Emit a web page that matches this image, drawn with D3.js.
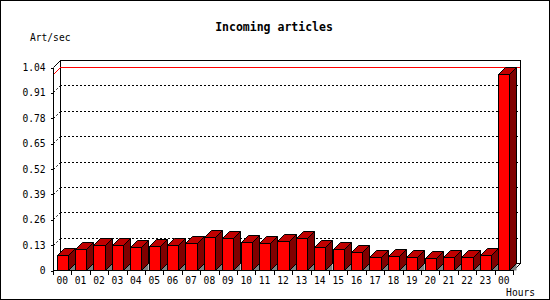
<!DOCTYPE html>
<html><head><meta charset="utf-8">
<script src="https://cdn.jsdelivr.net/npm/d3@7"></script>
<style>body{margin:0;background:#fff}svg{display:block}</style>
</head><body>
<script>
const hours = ["00","01","02","03","04","05","06","07","08","09","10","11","12","13","14","15","16","17","18","19","20","21","22","23","00"];
const rates = [0.075,0.106,0.127,0.127,0.116,0.121,0.127,0.137,0.168,0.162,0.142,0.137,0.147,0.162,0.116,0.106,0.091,0.065,0.070,0.065,0.060,0.065,0.065,0.075,1.003];
const yTicks = [0,0.13,0.26,0.39,0.52,0.65,0.78,0.91,1.04];
const title = "Incoming articles";
const yTitle = "Art/sec";
const xTitle = "Hours";

const W = 550, H = 300;
const X0 = 53, X1 = 513, Y0 = 270, Y1 = 67, D = 7;
const font = "'DejaVu Sans Mono', monospace";

const svg = d3.select("body").append("svg").attr("width", W).attr("height", H)
  .attr("shape-rendering", "crispEdges");
svg.append("rect").attr("x",0.5).attr("y",0.5).attr("width",W-1).attr("height",H-1)
  .attr("fill","#fff").attr("stroke","#000");

const x = d3.scaleBand().domain(d3.range(hours.length)).range([X0, X1]).paddingInner(0.4).paddingOuter(0.2);
const y = d3.scaleLinear().domain([0, 1.04]).range([Y0, Y1]);
const step = x.step();
const bw = x.bandwidth();

// back plane
svg.append("rect").attr("x", X0 + D + 0.5).attr("y", y(1.04) - D + 0.5)
  .attr("width", X1 - X0).attr("height", Y0 - Y1).attr("fill", "#fff").attr("stroke", "#000");

// grid lines
const g = svg.append("g");
yTicks.filter(t => t > 0 && t < 1.04).forEach(t => {
  g.append("line").attr("x1", X0 + D).attr("x2", X1 + D)
    .attr("y1", Math.round(y(t)) - D + 0.5).attr("y2", Math.round(y(t)) - D + 0.5)
    .attr("stroke", "#000").attr("stroke-dasharray", "2,2");
  g.append("line").attr("x1", X0 + 0.5).attr("y1", Math.round(y(t)) + 0.5)
    .attr("x2", X0 + D + 0.5).attr("y2", Math.round(y(t)) - D + 0.5)
    .attr("stroke", "#000").attr("stroke-dasharray", "2,2").attr("shape-rendering","auto");
});
// top-left depth line
svg.append("line").attr("x1", X0 + 0.5).attr("y1", y(1.04) + 0.5).attr("x2", X0 + D + 0.5).attr("y2", y(1.04) - D + 0.5)
  .attr("stroke", "#000").attr("shape-rendering","auto");
// bottom-right depth line
svg.append("line").attr("x1", X1 + 0.5).attr("y1", Y0 + 0.5).attr("x2", X1 + D + 0.5).attr("y2", Y0 - D + 0.5)
  .attr("stroke", "#000").attr("shape-rendering","auto");

// max line
const maxV = d3.max(rates);
const ym = Math.round(y(maxV));
svg.append("line").attr("x1", X0 + D).attr("x2", X1 + D).attr("y1", ym - D + 0.5).attr("y2", ym - D + 0.5)
  .attr("stroke", "#f00");
svg.append("line").attr("x1", X0 + 0.5).attr("y1", ym + 0.5).attr("x2", X0 + D + 0.5).attr("y2", ym - D + 0.5)
  .attr("stroke", "#f00").attr("shape-rendering","auto");

// bars
const bars = svg.append("g");
rates.forEach((v, i) => {
  const xl = Math.round(x(i)) + 0.5, xr = Math.round(x(i) + bw) + 0.5;
  const yt = Math.round(y(v)) + 0.5, yb = Y0 + 0.5;
  // shadow
  bars.append("path").attr("d", `M${xr},${yb}L${xr + D},${yb - D}L${xr + D},${yb}Z`)
    .attr("fill", "#808080").attr("shape-rendering","auto");
  // side
  bars.append("path").attr("d", `M${xr},${yt}L${xr + D},${yt - D}L${xr + D},${yb - D}L${xr},${yb}Z`)
    .attr("fill", "#800000").attr("stroke", "#000").attr("shape-rendering","auto");
  // top
  bars.append("path").attr("d", `M${xl},${yt}L${xl + D},${yt - D}L${xr + D},${yt - D}L${xr},${yt}Z`)
    .attr("fill", "#c00000").attr("stroke", "#000").attr("shape-rendering","auto");
  // front
  bars.append("rect").attr("x", xl).attr("y", yt).attr("width", xr - xl).attr("height", yb - yt)
    .attr("fill", "#ff0000").attr("stroke", "#000");
});

// y axis
const yAxis = d3.axisLeft(y).tickValues(yTicks).tickSize(3).tickPadding(5)
  .tickFormat(d => d === 0 ? "0" : d3.format(".2f")(d));
const ya = svg.append("g").attr("transform", `translate(${X0 + 0.5},0.5)`).call(yAxis);
ya.select(".domain").attr("d", `M0,${y(1.04)}V${Y0}`);
ya.selectAll("text").attr("font-family", font).attr("font-size", "9.6px").attr("fill", "#000");

// x axis
const xb = d3.scaleLinear().domain([0, hours.length]).range([X0, X1]);
const xa = svg.append("g").attr("transform", `translate(0,${Y0 + 0.5})`);
xa.append("line").attr("x1", X0).attr("x2", X1 + 1).attr("stroke", "#000");
xa.selectAll("line.t").data(d3.range(hours.length + 1)).join("line").attr("class","t")
  .attr("x1", d => Math.round(xb(d)) + 0.5).attr("x2", d => Math.round(xb(d)) + 0.5)
  .attr("y1", 0).attr("y2", 4).attr("stroke", "#000");
xa.selectAll("text").data(hours).join("text")
  .attr("x", (d, i) => x(i) + bw / 2).attr("y", 13)
  .attr("text-anchor", "middle").attr("font-family", font).attr("font-size", "9.6px").text(d => d);

// titles
svg.append("text").attr("x", 274).attr("y", 31).attr("text-anchor", "middle")
  .attr("font-family", font).attr("font-weight", "bold").attr("font-size", "11.5px").text(title);
svg.append("text").attr("x", 30).attr("y", 41).attr("font-family", font).attr("font-size", "9.6px").text(yTitle);
svg.append("text").attr("x", 535).attr("y", 296).attr("text-anchor", "end")
  .attr("font-family", font).attr("font-size", "9.6px").text(xTitle);
</script>
</body></html>
